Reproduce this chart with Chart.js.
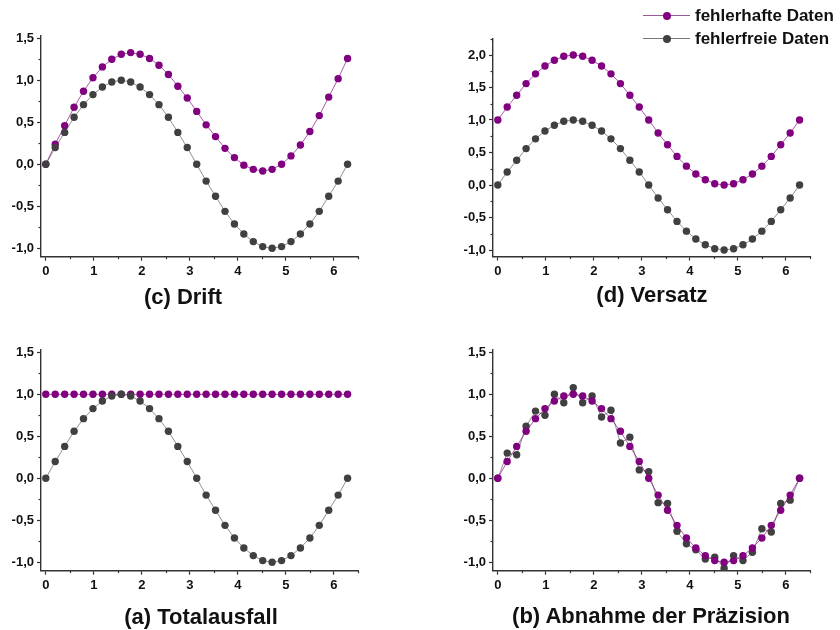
<!DOCTYPE html>
<html>
<head>
<meta charset="utf-8">
<script src="https://cdn.jsdelivr.net/npm/chart.js@4/dist/chart.umd.min.js"></script>
<style>
  html, body { margin: 0; padding: 0; background: #fff; }
  #page { position: relative; width: 840px; height: 630px; overflow: hidden; font-family: "Liberation Sans", Arial, sans-serif; }
  canvas { position: absolute; }
  .title { position: absolute; font-weight: bold; font-size: 22px; line-height: 1; color: #111; transform: translate(-50%, -50%); white-space: nowrap; }
  .leg { position: absolute; font-weight: bold; font-size: 17px; line-height: 1; color: #111; white-space: nowrap; transform: translateY(-50%); }
  .legline { position: absolute; height: 1px; width: 47px; }
  .legdot { position: absolute; width: 8px; height: 8px; border-radius: 50%; transform: translate(-50%, -50%); }
</style>
</head>
<body>
<div id="page">
  <canvas id="c1"></canvas>
  <canvas id="c2"></canvas>
  <canvas id="c3"></canvas>
  <canvas id="c4"></canvas>
  <div class="title" style="left:183px; top:297px;">(c) Drift</div>
  <div class="title" style="left:652px; top:295px;">(d) Versatz</div>
  <div class="title" style="left:201px; top:617px;">(a) Totalausfall</div>
  <div class="title" style="left:651px; top:616px;">(b) Abnahme der Präzision</div>

  <div class="legline" style="left:643px; top:15px; background:#9a5a9a;"></div>
  <div class="legdot" style="left:667px; top:15.5px; background:#800080;"></div>
  <div class="leg" style="left:695px; top:15px;">fehlerhafte Daten</div>
  <div class="legline" style="left:643px; top:38px; background:#777;"></div>
  <div class="legdot" style="left:667px; top:38.5px; background:#404040;"></div>
  <div class="leg" style="left:695px; top:38px;">fehlerfreie Daten</div>
</div>
<script>
// ---- data ----
const xValues = [0, 0.196, 0.393, 0.589, 0.785, 0.982, 1.178, 1.374, 1.571, 1.767, 1.963, 2.160, 2.356, 2.553, 2.749, 2.945, 3.142, 3.338, 3.534, 3.731, 3.927, 4.123, 4.320, 4.516, 4.712, 4.909, 5.105, 5.301, 5.498, 5.694, 5.890, 6.087, 6.283];

// error-free data (same in all panels)
const cleanData = [0, 0.20, 0.38, 0.56, 0.71, 0.83, 0.92, 0.98, 1.00, 0.98, 0.92, 0.83, 0.71, 0.56, 0.38, 0.20, 0.00, -0.20, -0.38, -0.56, -0.71, -0.83, -0.92, -0.98, -1.00, -0.98, -0.92, -0.83, -0.71, -0.56, -0.38, -0.20, 0.00];

// (c) Drift – faulty
const driftData = [0, 0.24, 0.46, 0.68, 0.87, 1.03, 1.16, 1.25, 1.31, 1.33, 1.31, 1.26, 1.18, 1.07, 0.93, 0.79, 0.63, 0.47, 0.33, 0.19, 0.08, -0.01, -0.06, -0.08, -0.06, 0.00, 0.10, 0.23, 0.39, 0.58, 0.80, 1.02, 1.26];

// (d) Versatz – faulty
const offsetData = [1.00, 1.20, 1.38, 1.56, 1.71, 1.83, 1.92, 1.98, 2.00, 1.98, 1.92, 1.83, 1.71, 1.56, 1.38, 1.20, 1.00, 0.80, 0.62, 0.44, 0.29, 0.17, 0.08, 0.02, 0.00, 0.02, 0.08, 0.17, 0.29, 0.44, 0.62, 0.80, 1.00];

// (a) Totalausfall – faulty
const failureData = [1, 1, 1, 1, 1, 1, 1, 1, 1, 1, 1, 1, 1, 1, 1, 1, 1, 1, 1, 1, 1, 1, 1, 1, 1, 1, 1, 1, 1, 1, 1, 1, 1];

// (b) Abnahme der Präzision – noisy (dark) and smooth (purple)
const noisyData = [0, 0.30, 0.28, 0.62, 0.80, 0.75, 1.00, 0.90, 1.08, 0.90, 0.98, 0.73, 0.81, 0.42, 0.49, 0.10, 0.08, -0.29, -0.30, -0.63, -0.78, -0.85, -0.96, -0.94, -1.07, -0.92, -0.98, -0.88, -0.60, -0.64, -0.30, -0.26, 0.00];
const precisionData = [0, 0.20, 0.38, 0.56, 0.71, 0.83, 0.92, 0.98, 1.00, 0.98, 0.92, 0.83, 0.71, 0.56, 0.38, 0.20, 0.00, -0.20, -0.38, -0.56, -0.71, -0.83, -0.92, -0.98, -1.00, -0.98, -0.92, -0.83, -0.71, -0.56, -0.38, -0.20, 0.00];

const seriesNames = ['fehlerhafte Daten', 'fehlerfreie Daten'];

const xMajor = [0, 1, 2, 3, 4, 5, 6];
const xMinor = [0.5, 1.5, 2.5, 3.5, 4.5, 5.5, 6.5];
const yMajorA = [-1.0, -0.5, 0.0, 0.5, 1.0, 1.5];
const yMinorA = [-0.75, -0.25, 0.25, 0.75, 1.25];
const yMajorB = [-1.0, -0.5, 0.0, 0.5, 1.0, 1.5, 2.0];
const yMinorB = [-0.75, -0.25, 0.25, 0.75, 1.25, 1.75, 2.25];

// ---- drawing ----
const PURPLE = '#800080', PURPLE_LINE = 'rgba(128,0,128,0.65)';
const GRAY = '#404040', GRAY_LINE = 'rgba(70,70,70,0.6)';
const AXIS = '#333';

function toPts(ys) { return ys.map((y, i) => ({ x: xValues[i], y: y })); }

function ds(label, ys, faulty) {
  return {
    label: label,
    data: toPts(ys),
    borderColor: faulty ? PURPLE_LINE : GRAY_LINE,
    borderWidth: 1,
    pointRadius: 3.7,
    pointBackgroundColor: faulty ? PURPLE : GRAY,
    pointBorderColor: faulty ? PURPLE : GRAY,
    pointBorderWidth: 0,
    tension: 0,
    showLine: true
  };
}

const minorPlugin = {
  id: 'minorTicks',
  afterDraw(chart, args, opts) {
    const ctx = chart.ctx, a = chart.chartArea;
    ctx.save();
    ctx.strokeStyle = AXIS;
    ctx.lineWidth = 1.2;
    const xs = chart.scales.x, ys = chart.scales.y;
    (opts.x || []).forEach(v => {
      const p = Math.round(xs.getPixelForValue(v)) + 0.5;
      ctx.beginPath(); ctx.moveTo(p, a.bottom); ctx.lineTo(p, a.bottom + 2.5); ctx.stroke();
    });
    (opts.y || []).forEach(v => {
      const p = Math.round(ys.getPixelForValue(v)) + 0.5;
      ctx.beginPath(); ctx.moveTo(a.left, p); ctx.lineTo(a.left - 2.5, p); ctx.stroke();
    });
    ctx.restore();
  }
};

function makeChart(id, rect, area, yMin, yMax, yMajor, yMinor, datasets) {
  const cv = document.getElementById(id);
  cv.style.left = rect[0] + 'px';
  cv.style.top = rect[1] + 'px';
  cv.width = rect[2]; cv.height = rect[3];
  cv.style.width = rect[2] + 'px'; cv.style.height = rect[3] + 'px';
  const yW = area[0] - rect[0];
  const padTop = area[1] - rect[1];
  const padRight = rect[0] + rect[2] - area[2];
  const xH = rect[1] + rect[3] - area[3];
  const tickFont = { family: '"Liberation Sans", Arial, sans-serif', size: 13, weight: 'bold' };
  return new Chart(cv, {
    type: 'scatter',
    data: { datasets: datasets },
    plugins: [minorPlugin],
    options: {
      responsive: false,
      animation: false,
      devicePixelRatio: 1,
      layout: { padding: { left: 0, top: padTop, right: padRight, bottom: 0 } },
      plugins: {
        legend: { display: false },
        tooltip: { enabled: false },
        minorTicks: { x: xMinor, y: yMinor }
      },
      scales: {
        x: {
          type: 'linear', min: -0.1, max: 6.5,
          afterBuildTicks: s => { s.ticks = xMajor.map(v => ({ value: v })); },
          afterFit: s => { s.height = xH; },
          ticks: { font: tickFont, color: '#111', padding: 3, maxRotation: 0, callback: v => String(v) },
          grid: { display: true, drawOnChartArea: false, drawTicks: true, tickLength: 4, tickColor: AXIS, tickWidth: 1.2 },
          border: { display: true, color: AXIS, width: 1.4 }
        },
        y: {
          type: 'linear', min: yMin, max: yMax,
          afterBuildTicks: s => { s.ticks = yMajor.map(v => ({ value: v })); },
          afterFit: s => { s.width = yW; },
          ticks: { font: tickFont, color: '#111', padding: 3, callback: v => v.toFixed(1).replace('.', ',') },
          grid: { display: true, drawOnChartArea: false, drawTicks: true, tickLength: 4, tickColor: AXIS, tickWidth: 1.2 },
          border: { display: true, color: AXIS, width: 1.4 }
        }
      }
    }
  });
}

// (c) Drift – top left (dataset 0 drawn on top)
makeChart('c1', [0, 0, 420, 315], [41, 35.8, 358, 256.7], -1.1, 1.53, yMajorA, yMinorA, [
  ds(seriesNames[1], cleanData, false),
  ds(seriesNames[0], driftData, true)
]);
// (d) Versatz – top right
makeChart('c2', [420, 0, 420, 315], [493, 38.75, 810, 256.5], -1.1, 2.25, yMajorB, yMinorB, [
  ds(seriesNames[1], cleanData, false),
  ds(seriesNames[0], offsetData, true)
]);
// (a) Totalausfall – bottom left
makeChart('c3', [0, 315, 420, 315], [41, 349.8, 358, 570.7], -1.1, 1.53, yMajorA, yMinorA, [
  ds(seriesNames[1], cleanData, false),
  ds(seriesNames[0], failureData, true)
]);
// (b) Abnahme der Präzision – bottom right
makeChart('c4', [420, 315, 420, 315], [493, 349.8, 810, 570.7], -1.1, 1.53, yMajorA, yMinorA, [
  ds(seriesNames[0], precisionData, true),
  ds(seriesNames[1], noisyData, false)
]);
</script>
</body>
</html>
